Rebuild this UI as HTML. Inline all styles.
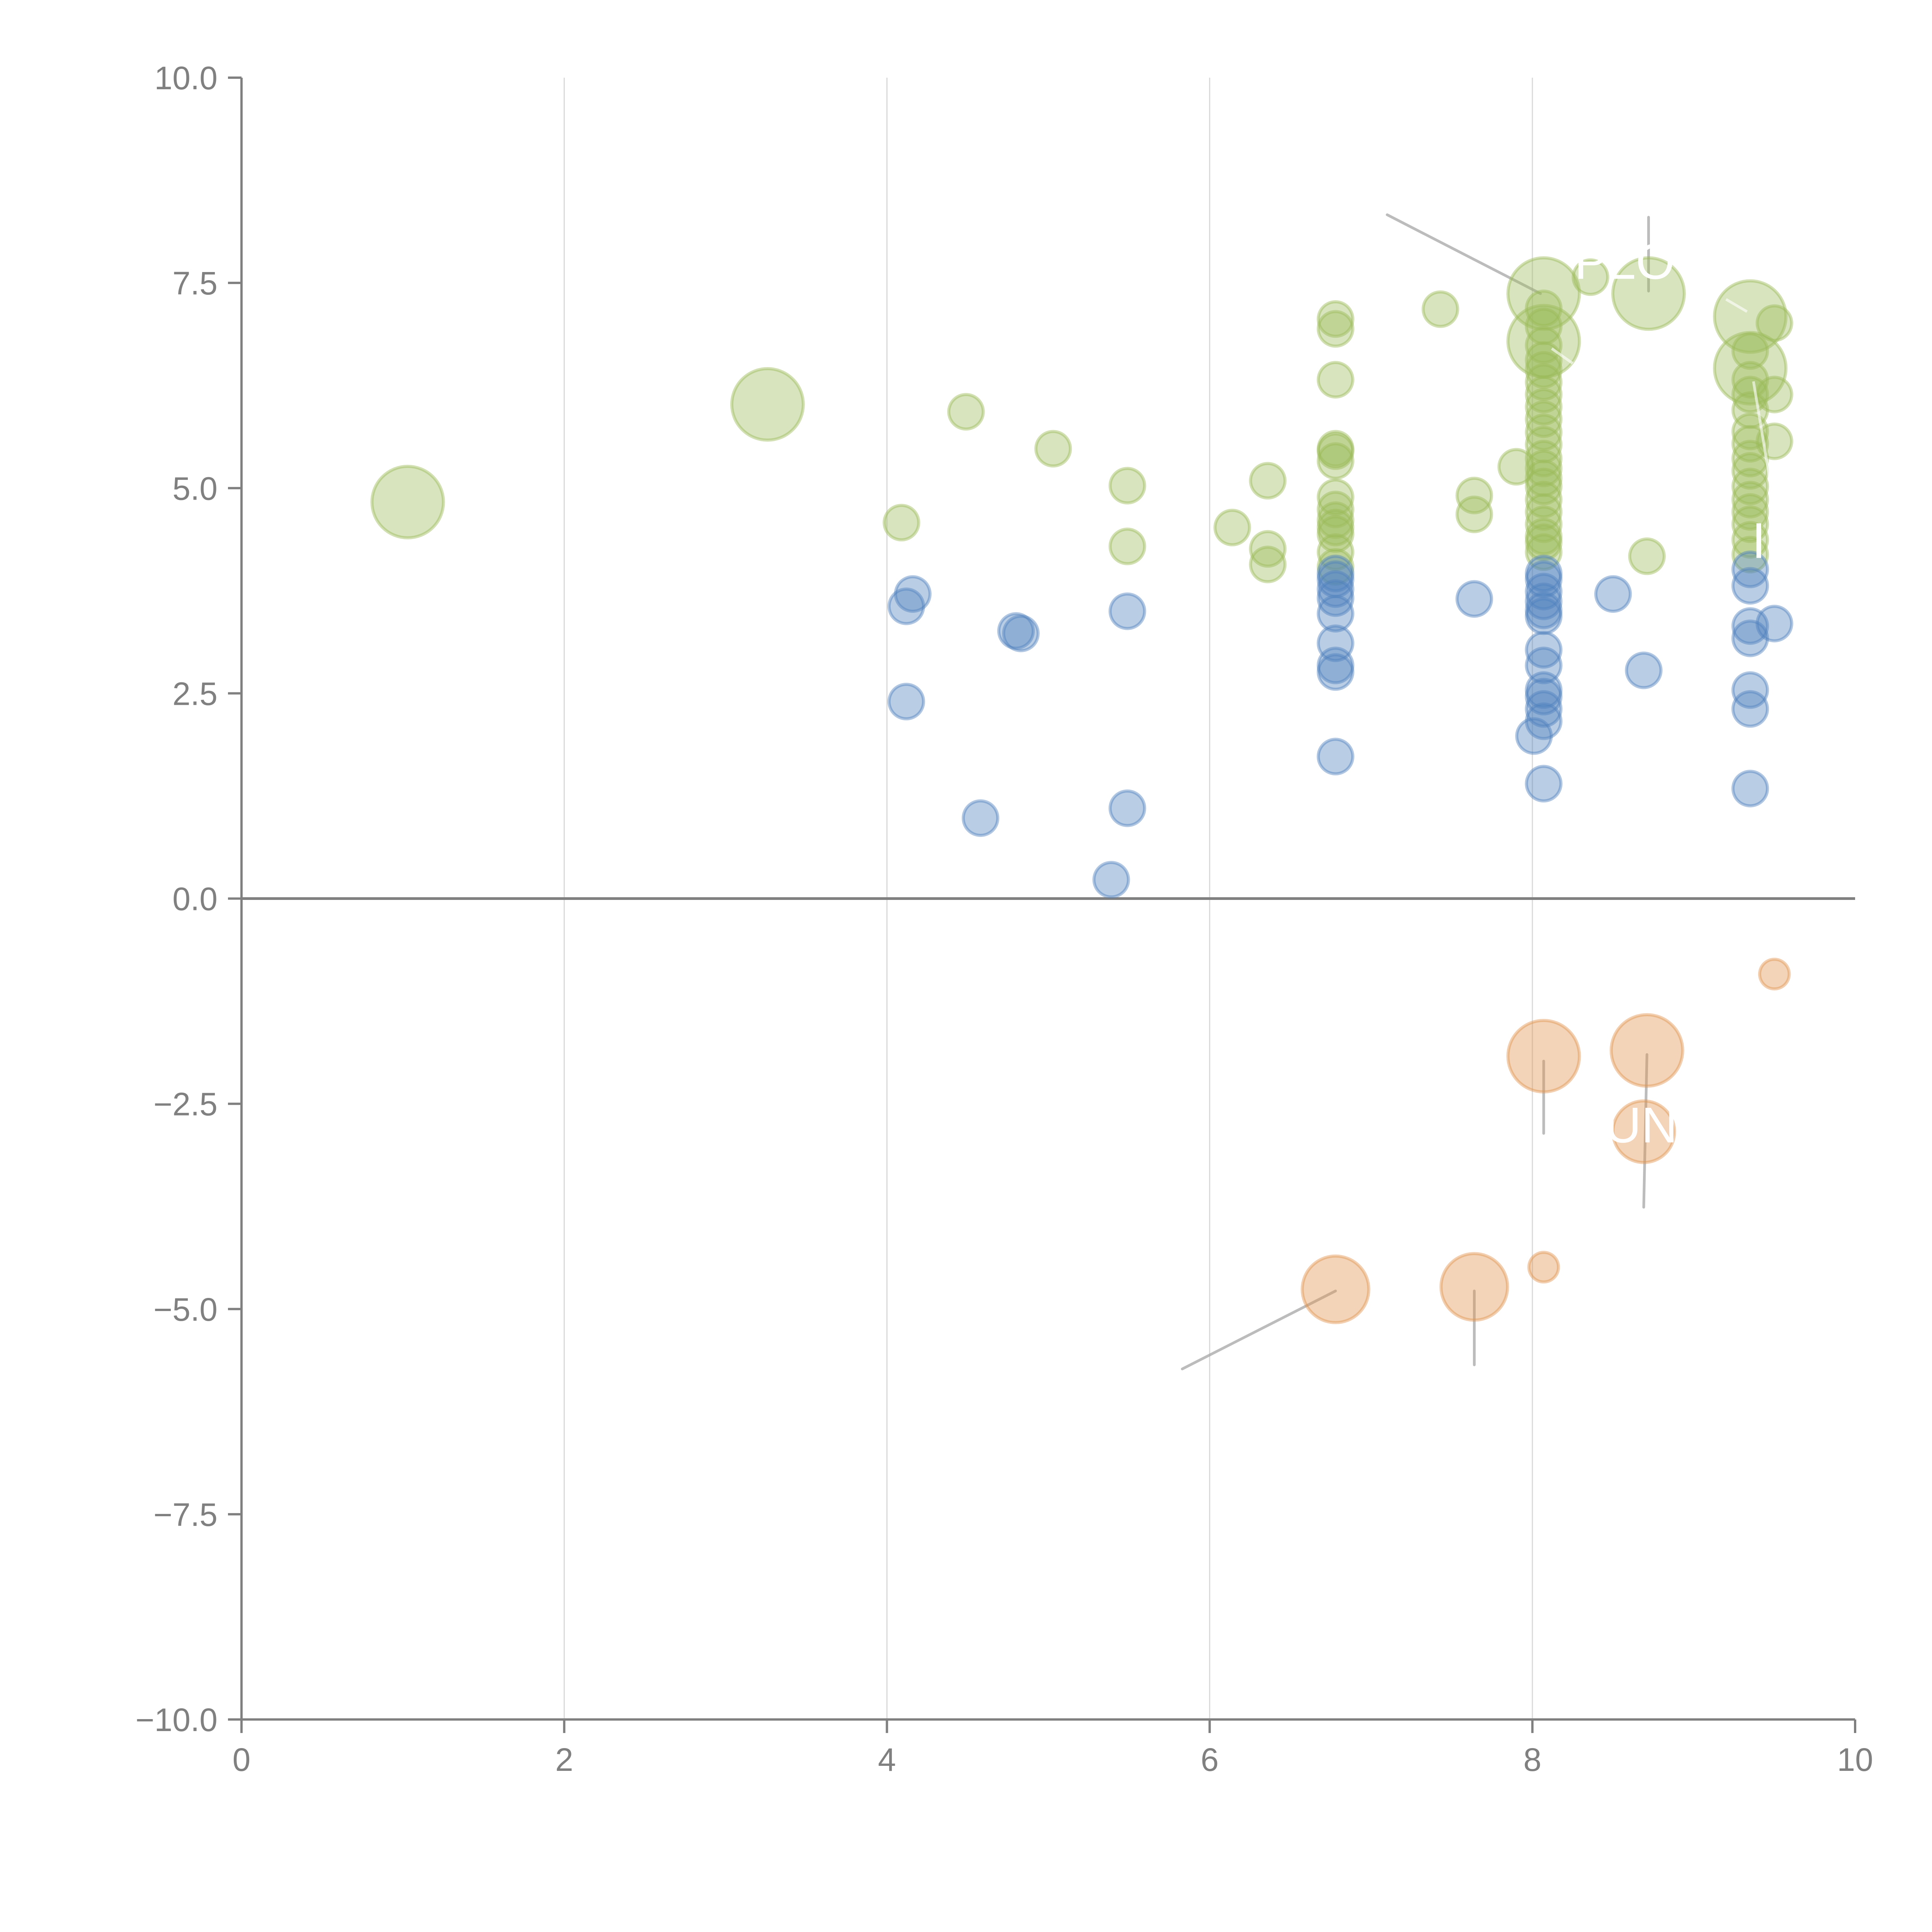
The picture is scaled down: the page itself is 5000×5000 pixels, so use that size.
<!DOCTYPE html>
<html><head><meta charset="utf-8"><style>
html,body{margin:0;padding:0;background:#fff;}
svg{display:block;}
text{font-family:"Liberation Sans",Arial,sans-serif;}
</style></head><body>
<svg id="chart" width="5000" height="5000" viewBox="0 0 5000 5000" xmlns="http://www.w3.org/2000/svg">
<g id="grid"></g>
<g id="axes"></g>
<g id="annot"></g>
<g id="marks"></g>
<g id="labels"></g>
</svg>
<script>
const xTicks=[0,2,4,6,8,10];
const yTicks=[-10,-7.5,-5,-2.5,0,2.5,5,7.5,10];
const xTickLabels=["0","2","4","6","8","10"];
const yTickLabels=["\u221210.0","\u22127.5","\u22125.0","\u22122.5","0.0","2.5","5.0","7.5","10.0"];

const greenX=[1.03,3.26,4.49,4.09,5.03,5.49,5.49,6.14,6.36,6.36,6.36,
6.78,6.78,6.78,6.78,6.78,6.78,6.78,6.78,6.78,6.78,6.78,6.78,6.78,
7.43,7.64,7.64,7.90,8.71,8.36,8.07,8.07,8.72,9.35,9.35,
8.07,8.07,8.07,8.07,8.07,8.07,8.07,8.07,8.07,8.07,8.07,8.07,8.07,8.07,8.07,8.07,8.07,8.07,8.07,8.07,8.07,
9.35,9.35,9.35,9.35,9.35,9.35,9.35,9.35,9.35,9.35,9.35,9.35,9.35,9.35,
9.5,9.5,9.5];
const greenY=[4.83,6.02,5.93,4.58,5.48,5.03,4.29,4.52,5.09,4.26,4.07,
7.06,6.94,6.32,5.48,5.45,5.33,4.89,4.74,4.61,4.52,4.44,4.22,4.04,
7.18,4.91,4.68,5.26,4.17,7.57,7.37,6.79,7.37,7.09,6.46,
7.19,6.97,6.74,6.56,6.44,6.29,6.14,5.99,5.84,5.68,5.53,5.36,5.24,5.12,5.02,4.86,4.71,4.56,4.41,4.34,4.22,
6.67,6.32,6.14,5.95,5.69,5.54,5.36,5.21,5.02,4.86,4.71,4.56,4.37,4.19,
7.01,6.14,5.57];
const greenSize=[29,29,14,14,14,14,14,14,14,14,14,
14,14,14,14,14,14,14,14,14,14,14,14,14,
14,14,14,14,14,14,29,29,29,29,29,
14,14,14,14,14,14,14,14,14,14,14,14,14,14,14,14,14,14,14,14,14,
14,14,14,14,14,14,14,14,14,14,14,14,14,14,
14,14,14];

const blueX=[4.12,4.16,4.12,4.58,4.80,4.83,5.49,5.49,5.39,
6.78,6.78,6.78,6.78,6.78,6.78,6.78,6.78,6.78,
7.64,8.50,8.69,
8.07,8.07,8.07,8.07,8.07,8.07,8.07,8.07,8.07,8.07,8.07,8.07,8.07,8.01,
9.35,9.35,9.35,9.35,9.35,9.35,9.35,9.5];
const blueY=[3.56,3.71,2.40,0.98,3.26,3.23,3.50,1.10,0.23,
3.96,3.89,3.77,3.66,3.47,3.11,2.84,2.76,1.73,
3.65,3.71,2.78,
3.96,3.89,3.74,3.62,3.51,3.44,3.03,2.84,2.54,2.46,2.31,2.16,1.40,1.98,
4.01,3.81,3.32,3.17,2.54,2.31,1.34,3.35];

const orangeX=[9.5,8.07,8.71,8.69,8.07,6.78,7.64];
const orangeY=[-0.92,-1.92,-1.85,-2.84,-4.49,-4.76,-4.73];
const orangeSize=[12,29,29,25,12,27,27];

const L=625,R=4801,T=201,B=4450;
const xs=v=>L+(v-0)/(10-0)*(R-L);
const ys=v=>B-(v+10)/20*(B-T);
const NS="http://www.w3.org/2000/svg";
function mk(tag,parent){const e=document.createElementNS(NS,tag);parent.appendChild(e);return e;}
const grid=document.getElementById('grid'),axes=document.getElementById('axes'),marks=document.getElementById('marks'),annot=document.getElementById('annot'),labels=document.getElementById('labels');

xTicks.forEach((t,i)=>{
  if(t>0&&t<10){const g=mk('line',grid);
    
    
    g.setAttribute('x1',xs(t));g.setAttribute('x2',xs(t));g.setAttribute('y1',T);g.setAttribute('y2',B);
    g.setAttribute('stroke','#d9d9d9');g.setAttribute('stroke-width','3');}
  const tk=mk('line',axes);
  
  
  tk.setAttribute('x1',xs(t));tk.setAttribute('x2',xs(t));tk.setAttribute('y1',B);tk.setAttribute('y2',B+35);
  tk.setAttribute('stroke','#808080');tk.setAttribute('stroke-width','6');
  const tx=mk('text',axes);
  
  
  tx.setAttribute('x',xs(t));tx.setAttribute('y',B+133);tx.setAttribute('text-anchor','middle');
  tx.setAttribute('font-size','84');tx.setAttribute('fill','#808080');tx.textContent=xTickLabels[i];
});
yTicks.forEach((t,i)=>{
  const tk=mk('line',axes);
  
  
  tk.setAttribute('x1',L-35);tk.setAttribute('x2',L);tk.setAttribute('y1',ys(t));tk.setAttribute('y2',ys(t));
  tk.setAttribute('stroke','#808080');tk.setAttribute('stroke-width','6');
  const tx=mk('text',axes);
  
  
  tx.setAttribute('x',L-62);tx.setAttribute('y',ys(t)+30);tx.setAttribute('text-anchor','end');
  tx.setAttribute('font-size','84');tx.setAttribute('fill','#808080');tx.textContent=yTickLabels[i];
});
const ya=mk('line',axes);


ya.setAttribute('x1',L);ya.setAttribute('x2',L);ya.setAttribute('y1',T);ya.setAttribute('y2',B);ya.setAttribute('stroke','#808080');ya.setAttribute('stroke-width','6');
const xa=mk('line',axes);


xa.setAttribute('x1',L);xa.setAttribute('x2',R);xa.setAttribute('y1',B);xa.setAttribute('y2',B);xa.setAttribute('stroke','#808080');xa.setAttribute('stroke-width','6');
const zl=mk('line',axes);


zl.setAttribute('x1',L);zl.setAttribute('x2',R);zl.setAttribute('y1',ys(0));zl.setAttribute('y2',ys(0));zl.setAttribute('stroke','#808080');zl.setAttribute('stroke-width','7');

function drawSeries(X,Y,S,fill,stroke,name){
  X.forEach((x,i)=>{
    const c=mk('circle',marks);
    
    
    c.setAttribute('cx',xs(x));c.setAttribute('cy',ys(Y[i]));
    c.setAttribute('r',(S?S[i]:14)*3.19);
    c.setAttribute('fill',fill);c.setAttribute('fill-opacity','0.4');
    c.setAttribute('stroke',stroke);c.setAttribute('stroke-opacity','0.45');c.setAttribute('stroke-width','8');
  });
}
drawSeries(greenX,greenY,greenSize,'#9bbb59','#9bbb59','green-bubble');
drawSeries(blueX,blueY,null,'#4f81bd','#4f81bd','blue-bubble');
drawSeries(orangeX,orangeY,orangeSize,'#e0944f','#e0944f','orange-bubble');

const annX1=[7.10,8.72,8.07,8.71,6.78,7.64];
const annY1=[8.33,8.30,-1.98,-1.90,-4.78,-4.78];
const annX2=[8.05,8.72,8.07,8.69,5.83,7.64];
const annY2=[7.37,7.40,-2.86,-3.76,-5.73,-5.68];
annX1.forEach((x,i)=>{
  const l=mk('line',annot);
  
  
  l.setAttribute('x1',xs(x));l.setAttribute('y1',ys(annY1[i]));l.setAttribute('x2',xs(annX2[i]));l.setAttribute('y2',ys(annY2[i]));
  l.setAttribute('stroke','#a6a6a6');l.setAttribute('stroke-opacity','0.75');l.setAttribute('stroke-width','7');l.setAttribute('stroke-linecap','round');
});
const wX1=[9.20,8.12,9.37],wY1=[7.30,6.70,6.30],wX2=[9.33,8.25,9.48],wY2=[7.15,6.52,5.00];
wX1.forEach((x,i)=>{
  const l=mk('line',labels);
  
  
  l.setAttribute('x1',xs(x));l.setAttribute('y1',ys(wY1[i]));l.setAttribute('x2',xs(wX2[i]));l.setAttribute('y2',ys(wY2[i]));
  l.setAttribute('stroke','#fff');l.setAttribute('stroke-opacity','0.6');l.setAttribute('stroke-width','7');
});
const labText=["PLO","IL","UNE"],labX=[8.26,9.36,8.45],labY=[7.55,4.15,-2.97];
labText.forEach((s,i)=>{
  const t=mk('text',labels);
  
  
  t.setAttribute('x',xs(labX[i]));t.setAttribute('y',ys(labY[i]));
  t.setAttribute('font-size','130');t.setAttribute('fill','#fff');t.textContent=s;
});
</script>
</body></html>
